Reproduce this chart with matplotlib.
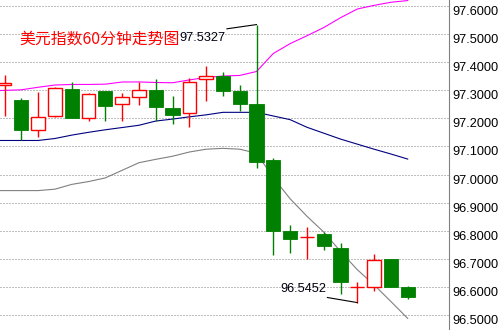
import matplotlib.pyplot as plt
import numpy as np

# 60-minute USD index candles (bar 0 .. 24)
opens = [97.318, 97.265, 97.158, 97.207, 97.305, 97.200, 97.2975, 97.249, 97.275, 97.301,
         97.237, 97.220, 97.339, 97.349, 97.2975, 97.251, 97.051, 96.801, 96.7786, 96.790,
         96.740, 96.600, 96.600, 96.701, 96.601]
closes = [97.326, 97.159, 97.205, 97.308, 97.202, 97.286, 97.245, 97.275, 97.300, 97.241,
          97.213, 97.329, 97.350, 97.295, 97.249, 97.043, 96.799, 96.7725, 96.7786, 96.745,
          96.620, 96.600, 96.6975, 96.601, 96.5665]
highs = [97.355, 97.2725, 97.293, 97.310, 97.329, 97.290, 97.2975, 97.291, 97.329, 97.340,
         97.279, 97.344, 97.386, 97.364, 97.319, 97.5327, 97.057, 96.8225, 96.812, 96.795,
         96.758, 96.618, 96.719, 96.701, 96.6046]
lows = [97.209, 97.124, 97.132, 97.205, 97.200, 97.189, 97.191, 97.191, 97.2475, 97.191,
        97.180, 97.170, 97.263, 97.280, 97.227, 97.025, 96.715, 96.720, 96.6986, 96.733,
        96.577, 96.5452, 96.588, 96.601, 96.559]

# bollinger bands, bar -1 .. 24
band_idx = np.arange(-1, 25)
upper = [97.297, 97.299, 97.301, 97.310, 97.318, 97.320, 97.320, 97.321, 97.3286, 97.329,
         97.327, 97.326, 97.336, 97.345, 97.350, 97.352, 97.366, 97.430, 97.465, 97.493,
         97.522, 97.557, 97.588, 97.601, 97.612, 97.618]
middle = [97.121, 97.121, 97.121, 97.121, 97.128, 97.140, 97.150, 97.159, 97.167, 97.175,
          97.190, 97.197, 97.205, 97.212, 97.221, 97.221, 97.221, 97.208, 97.195, 97.168,
          97.147, 97.126, 97.108, 97.090, 97.073, 97.055]
lower = [96.943, 96.943, 96.943, 96.943, 96.948, 96.965, 96.975, 96.988, 97.015, 97.042,
         97.054, 97.065, 97.080, 97.090, 97.093, 97.090, 97.076, 96.989, 96.914, 96.852,
         96.796, 96.727, 96.662, 96.608, 96.549, 96.489]

yticks = [96.5, 96.6, 96.7, 96.8, 96.9, 97.0, 97.1, 97.2, 97.3, 97.4, 97.5, 97.6]
title = "美元指数60分钟走势图"

GREEN = "#008000"
RED = "#ff0000"

fig = plt.figure(figsize=(5.03, 3.30), dpi=100)
ax = fig.add_axes([0, 0, 448.7 / 503, 1])

ax.plot(band_idx, upper, color="#ff00ff", lw=0.8, zorder=2)
ax.plot(band_idx, middle, color="#000080", lw=0.8, zorder=2)
ax.plot(band_idx, lower, color="#808080", lw=0.8, zorder=2)

w = 0.84
for i, (o, c, h, l) in enumerate(zip(opens, closes, highs, lows)):
    top, bot = max(o, c), min(o, c)
    if c < o:
        ax.vlines(i, l, h, color=GREEN, lw=1.0, zorder=3)
        ax.bar(i, top - bot, w, bot, color=GREEN, edgecolor=GREEN, lw=0.6, zorder=4)
    elif c == o:
        ax.vlines(i, l, h, color=RED, lw=1.0, zorder=3)
        ax.hlines(o, i - w / 2, i + w / 2, color=RED, lw=1.0, zorder=4)
    else:
        ax.vlines(i, top, h, color=RED, lw=1.0, zorder=3)
        ax.vlines(i, l, bot, color=RED, lw=1.0, zorder=3)
        ax.bar(i, top - bot, w * 0.95, bot, facecolor="white", edgecolor=RED, lw=1.0, zorder=4)

# high / low markers
hi = int(np.argmax(highs))
lo = int(np.argmin(lows))
ax.plot([hi - 1.76, hi], [highs[hi] - 0.015, highs[hi]], color="black", lw=0.8, zorder=5)
ax.text(hi - 1.82, highs[hi] - 0.046, f"{highs[hi]:.4f}", ha="right", va="center",
        fontsize=9.2, family="Liberation Sans", color="#000010", zorder=6)
ax.plot([lo - 1.78, lo], [lows[lo] + 0.018, lows[lo]], color="black", lw=0.8, zorder=5)
ax.text(lo - 1.86, lows[lo] + 0.048, f"{lows[lo]:.4f}", ha="right", va="center",
        fontsize=9.2, family="Liberation Sans", color="#000010", zorder=6)

ax.text(19 / 448.7, 1 - 39 / 330, title, transform=ax.transAxes, ha="left", va="center",
        fontsize=11.4, color=RED, family=["Noto Sans CJK SC", "DejaVu Sans"], zorder=6)

ax.set_xlim(-0.268, -0.268 + 448.7 / 16.8)
ax.set_ylim(96.4478, 97.620)

ax.set_yticks(yticks)
ax.set_yticklabels([f"{t:.4f}" for t in yticks])
ax.yaxis.tick_right()
ax.tick_params(axis="y", length=0, pad=2.5, labelsize=9.2)
for lbl in ax.get_yticklabels():
    lbl.set_va("top")
    lbl.set_family("Liberation Sans")
ax.set_xticks([])
ax.grid(axis="y", color="#808080", linestyle=(0, (1, 2)), linewidth=0.72)
ax.set_axisbelow(True)

for s in ["top", "left", "bottom"]:
    ax.spines[s].set_visible(False)
ax.spines["right"].set_color("#808080")
ax.spines["right"].set_linewidth(0.8)

fig.savefig("out.png", dpi=100)
